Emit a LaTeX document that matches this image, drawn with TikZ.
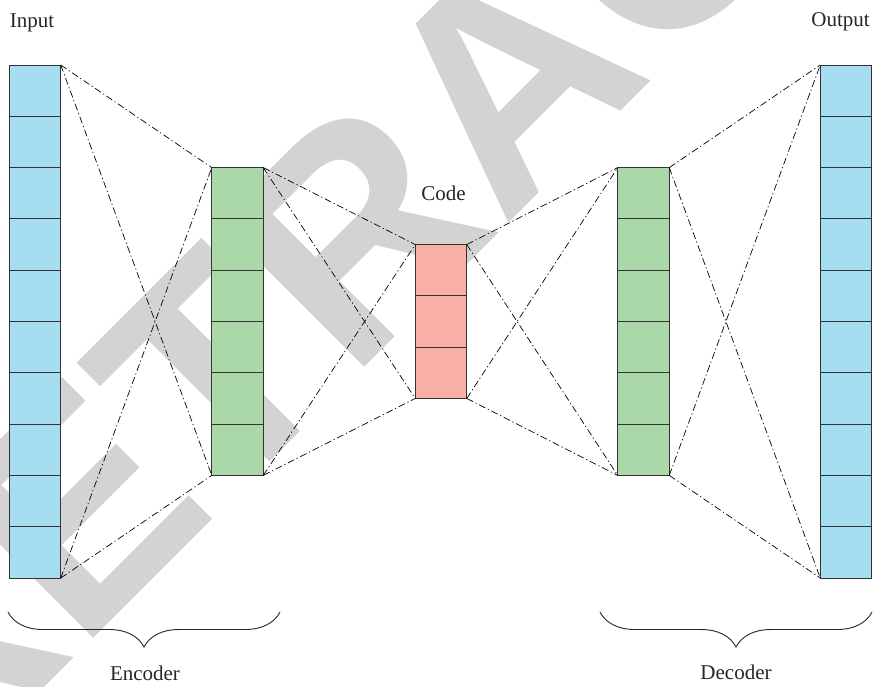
\documentclass[tikz,border=0pt]{standalone}
\usepackage{fontspec}
\setmainfont{Liberation Serif}
\newfontfamily\wmfont{Liberation Sans}
\usetikzlibrary{calc,decorations.pathreplacing}

\definecolor{cellblue}{HTML}{A6DDF0}
\definecolor{cellgreen}{HTML}{ABD8A8}
\definecolor{cellred}{HTML}{F8B0A6}
\definecolor{edgegray}{HTML}{333333}
\definecolor{wmgray}{HTML}{D3D3D3}

\begin{document}
\begin{tikzpicture}[x=1pt,y=-1pt,
  layer/.style={draw=edgegray, line width=0.9pt, rectangle, inner sep=0pt,
                outer sep=0pt, minimum width=51.5pt},
  cellsep/.style={draw=edgegray, line width=0.9pt},
  link/.style={draw=black, line width=0.7pt,
               dash pattern=on 7pt off 2.8pt on 1.2pt off 2.8pt},
  label/.style={font=\fontsize{21}{21}\selectfont, text=black!85,
                inner sep=0pt, anchor=base},
  bracket/.style={draw=black!85, line width=0.9pt, decorate,
                  decoration={brace, amplitude=35pt, aspect=0.5}},
  watermark/.style={rotate=45, anchor=base, inner sep=0pt, text=wmgray,
                    font=\wmfont\bfseries\fontsize{300}{300}\selectfont}]

\useasboundingbox (0,0) rectangle (874,686);

% background watermark
\begin{scope}
  \clip (0,0) rectangle (874,686);
  \node[watermark] (wm) at (580,152) {RETRACTED};
\end{scope}

% layer columns
\node[layer, fill=cellblue,  minimum height=513pt]   (inp)  at (35,321.5)    {};
\node[layer, fill=cellgreen, minimum height=307.8pt] (enc)  at (237.5,321.5) {};
\node[layer, fill=cellred,   minimum height=153.9pt] (code) at (441,321.5)   {};
\node[layer, fill=cellgreen, minimum height=307.8pt] (dec)  at (643.5,321.5) {};
\node[layer, fill=cellblue,  minimum height=513pt]   (out)  at (846,321.5)   {};

% cell dividers
\foreach \col/\n in {inp/10, enc/6, code/3, dec/6, out/10}{
  \pgfmathtruncatemacro{\last}{\n-1}
  \foreach \k in {1,...,\last}
    \draw[cellsep] ($(\col.north west)!\k/\n!(\col.south west)$)
                -- ($(\col.north east)!\k/\n!(\col.south east)$);
}

% fully connected links between neighbouring layers
\foreach \a/\b in {inp/enc, enc/code, code/dec, dec/out}{
  \draw[link] (\a.north east) -- (\b.north west);
  \draw[link] (\a.north east) -- (\b.south west);
  \draw[link] (\a.south east) -- (\b.north west);
  \draw[link] (\a.south east) -- (\b.south west);
}

% labels
\node[label] (lin)   at (32,27)    {Input};
\node[label] (lout)  at (840.5,26) {Output};
\node[label] (lcode) at (443.5,200) {Code};

% braces
\coordinate (encL) at (8,612);
\coordinate (encR) at (280,612);
\coordinate (decL) at (600,612);
\coordinate (decR) at (872,612);
\draw[bracket] (encR) -- (encL);
\draw[bracket] (decR) -- (decL);
\node[label] (lenc) at (145,680) {Encoder};
\node[label] (ldec) at (736,679) {Decoder};

\end{tikzpicture}
\end{document}
